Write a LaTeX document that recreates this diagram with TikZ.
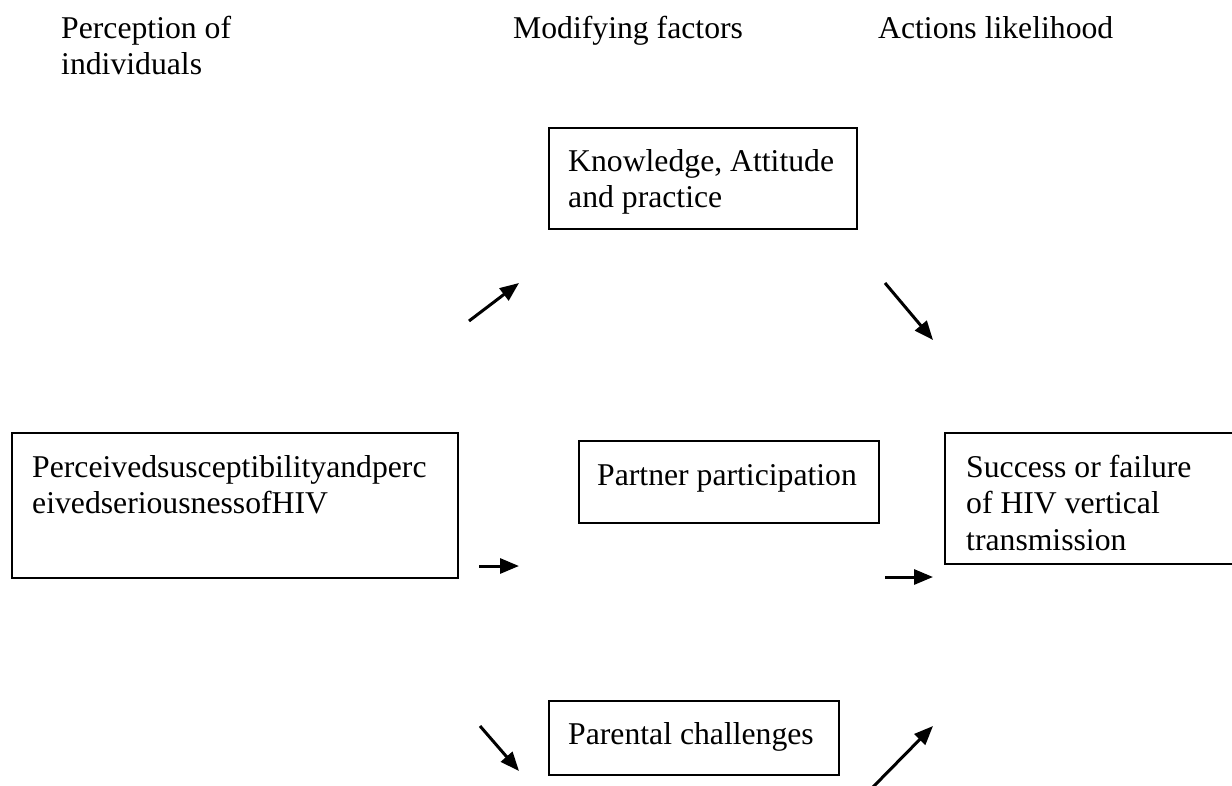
\documentclass[tikz,border=0pt]{standalone}
\usepackage{fontspec}
\setmainfont{Liberation Serif}
\usetikzlibrary{arrows.meta}
\tikzset{
  txt/.style={inner sep=0pt, align=left, anchor=base west, font=\fontsize{31.7}{36.6}\selectfont},
  boxframe/.style={draw, line width=1.8pt, inner sep=0pt, anchor=north west},
  arr/.style={line width=3pt, -{Triangle[length=19pt,width=15pt]}}
}
\begin{document}
\begin{tikzpicture}[x=1pt,y=-1pt]
\path[use as bounding box, fill=white] (0,0) rectangle (1232,785);
% headers
\node[txt] (h1) at (61,74.6) {Perception of\\individuals};
\node[txt] (h2) at (513,38) {Modifying factors};
\node[txt] (h3) at (878,38) {Actions likelihood};
% boxes
\node[boxframe, minimum width=308pt, minimum height=101pt] (kap) at (548,127) {};
\node[txt] (kapt) at (568,207.6) {Knowledge, Attitude\\and practice};
\node[boxframe, minimum width=446pt, minimum height=145pt] (perc) at (11,432) {};
\node[txt] (perct) at (32,513.6) {Perceivedsusceptibilityandperc\\eivedseriousnessofHIV};
\node[boxframe, minimum width=300pt, minimum height=82pt] (part) at (578,440) {};
\node[txt] (partt) at (597,485) {Partner participation};
\node[boxframe, minimum width=300pt, minimum height=131pt] (succ) at (944,432) {};
\node[txt] (succt) at (966,550.2) {Success or failure\\of HIV vertical\\transmission};
\node[boxframe, minimum width=290pt, minimum height=74pt] (pare) at (548,700) {};
\node[txt] (paret) at (568,744) {Parental challenges};
% arrow end points
\coordinate (a1s) at (469,321); \coordinate (a1e) at (519,283);
\coordinate (a2s) at (885,283); \coordinate (a2e) at (933,340);
\coordinate (a3s) at (479,566); \coordinate (a3e) at (519,566);
\coordinate (a4s) at (885,577); \coordinate (a4e) at (933,577);
\coordinate (a5s) at (480,726); \coordinate (a5e) at (519,771);
\coordinate (a6s) at (873,787); \coordinate (a6e) at (933,726);
\draw[arr] (a1s) -- (a1e);
\draw[arr] (a2s) -- (a2e);
\draw[arr] (a3s) -- (a3e);
\draw[arr] (a4s) -- (a4e);
\draw[arr] (a5s) -- (a5e);
\draw[arr] (a6s) -- (a6e);
\end{tikzpicture}
\end{document}
